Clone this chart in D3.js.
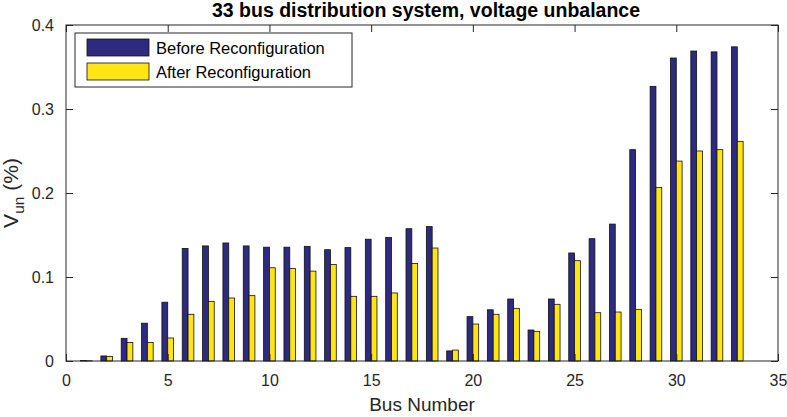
<!DOCTYPE html>
<html>
<head>
<meta charset="utf-8">
<script src="https://cdn.jsdelivr.net/npm/d3@7"></script>
<style>
  body { margin: 0; background: #fff; }
  text { font-family: "Liberation Sans", Arial, sans-serif; }
</style>
</head>
<body>
<svg id="chart"></svg>
<script>
var buses = d3.range(1, 34);
var before = [0.0005, 0.006, 0.027, 0.045, 0.070, 0.134, 0.137, 0.1405, 0.137, 0.1355,
              0.1355, 0.1365, 0.1325, 0.135, 0.145, 0.147, 0.1575, 0.160, 0.012, 0.0528,
              0.061, 0.0738, 0.0369, 0.0738, 0.1286, 0.1456, 0.163, 0.2516, 0.327, 0.3607,
              0.369, 0.368, 0.374];
var after = [0.0003, 0.0055, 0.022, 0.022, 0.0274, 0.0556, 0.071, 0.075, 0.0778, 0.111,
             0.110, 0.107, 0.115, 0.077, 0.077, 0.081, 0.116, 0.1345, 0.013, 0.044,
             0.0556, 0.0627, 0.0353, 0.0675, 0.1194, 0.0575, 0.0583, 0.0615, 0.2067, 0.238,
             0.250, 0.2516, 0.2615];
var seriesNames = ["Before Reconfiguration", "After Reconfiguration"];
var xTicks = [0, 5, 10, 15, 20, 25, 30, 35];
var yTicks = [0, 0.1, 0.2, 0.3, 0.4];

var margin = { top: 25, right: 9, bottom: 56, left: 66 },
    width = 787 - margin.left - margin.right,
    height = 417 - margin.top - margin.bottom;

var colors = ["#2e2a7f", "#ffe512"];
var axisColor = "#262626";

var svg = d3.select("#chart")
    .attr("width", 787)
    .attr("height", 417);

var g = svg.append("g")
    .attr("transform", "translate(" + margin.left + "," + margin.top + ")");

var x = d3.scaleLinear().domain([0, 35]).range([0, width]);
var y = d3.scaleLinear().domain([0, 0.4]).range([height, 0]);

var barW = 0.286; // bar width in bus units
var data = [before, after];

data.forEach(function(vals, s) {
    g.append("g").selectAll("rect")
        .data(vals)
        .enter().append("rect")
        .attr("x", function(d, i) { return x(buses[i] + (s - 1) * barW); })
        .attr("y", function(d) { return y(d); })
        .attr("width", x(barW) - x(0))
        .attr("height", function(d) { return y(0) - y(d); })
        .attr("fill", colors[s])
        .attr("stroke", "#111")
        .attr("stroke-width", 0.8);
});

// box and ticks
var tickLen = 7;
g.append("rect")
    .attr("width", width).attr("height", height)
    .attr("fill", "none").attr("stroke", axisColor).attr("stroke-width", 1);

g.append("g").attr("transform", "translate(0," + height + ")")
    .call(d3.axisBottom(x).tickValues(xTicks).tickSizeInner(-tickLen).tickSizeOuter(0).tickPadding(14))
    .call(styleAxis);
g.append("g")
    .call(d3.axisTop(x).tickValues(xTicks).tickSizeInner(-tickLen).tickSizeOuter(0).tickFormat(""))
    .call(styleAxis);
g.append("g")
    .call(d3.axisLeft(y).tickValues(yTicks).tickSizeInner(-tickLen).tickSizeOuter(0).tickPadding(12)
        .tickFormat(function(d) { return d === 0 ? "0" : d3.format(".1f")(d); }))
    .call(styleAxis);
g.append("g").attr("transform", "translate(" + width + ",0)")
    .call(d3.axisRight(y).tickValues(yTicks).tickSizeInner(-tickLen).tickSizeOuter(0).tickFormat(""))
    .call(styleAxis);

function styleAxis(sel) {
    sel.select(".domain").remove();
    sel.selectAll(".tick line").attr("stroke", axisColor);
    sel.selectAll(".tick text").attr("fill", axisColor).style("font-size", "16px");
}

// title
svg.append("text")
    .attr("x", 426).attr("y", 17)
    .attr("text-anchor", "middle")
    .style("font-size", "19.5px").style("font-weight", "bold")
    .attr("fill", "#000")
    .text("33 bus distribution system, voltage unbalance");

// x label
svg.append("text")
    .attr("x", margin.left + width / 2).attr("y", 411)
    .attr("text-anchor", "middle")
    .style("font-size", "19px")
    .attr("fill", axisColor)
    .text("Bus Number");

// y label
var yl = svg.append("text")
    .attr("transform", "translate(18," + (margin.top + height / 2) + ") rotate(-90)")
    .attr("text-anchor", "middle")
    .attr("fill", axisColor)
    .style("font-size", "21px");
yl.append("tspan").text("V");
yl.append("tspan").attr("dy", 6).style("font-size", "15.5px").text("un");
yl.append("tspan").attr("dy", -6).text(" (%)");

// legend
var legend = g.append("g").attr("transform", "translate(9,8)");
legend.append("rect")
    .attr("width", 277).attr("height", 54)
    .attr("fill", "#fff").attr("stroke", axisColor).attr("stroke-width", 1);
seriesNames.forEach(function(name, i) {
    var row = legend.append("g").attr("transform", "translate(12," + (6 + i * 24) + ")");
    row.append("rect")
        .attr("width", 62).attr("height", 17)
        .attr("fill", colors[i]).attr("stroke", "#111").attr("stroke-width", 0.8);
    row.append("text")
        .attr("x", 69).attr("y", 15)
        .style("font-size", "16.5px")
        .attr("fill", "#000")
        .text(name);
});
</script>
</body>
</html>
